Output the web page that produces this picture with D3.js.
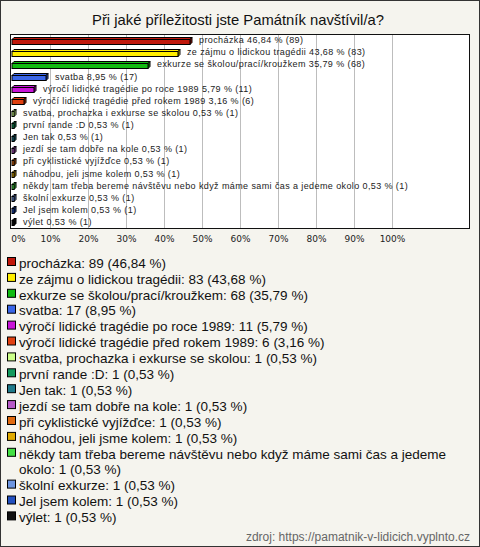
<!DOCTYPE html>
<html><head><meta charset="utf-8">
<script src="https://cdn.jsdelivr.net/npm/d3@7"></script>
<style>html,body{margin:0;padding:0;background:#fff}</style>
</head><body>
<script>
const categories = [
  "procházka",
  "ze zájmu o lidickou tragédii",
  "exkurze se školou/prací/kroužkem",
  "svatba",
  "výročí lidické tragédie po roce 1989",
  "výročí lidické tragédie před rokem 1989",
  "svatba, prochazka i exkurse se skolou",
  "první rande :D",
  "Jen tak",
  "jezdí se tam dobře na kole",
  "při cyklistické vyjížďce",
  "náhodou, jeli jsme kolem",
  "někdy tam třeba bereme návštěvu nebo když máme sami čas a jedeme okolo",
  "školní exkurze",
  "Jel jsem kolem",
  "výlet"
];
const counts = [89, 83, 68, 17, 11, 6, 1, 1, 1, 1, 1, 1, 1, 1, 1, 1];
const percents = [46.84, 43.68, 35.79, 8.95, 5.79, 3.16, 0.53, 0.53, 0.53, 0.53, 0.53, 0.53, 0.53, 0.53, 0.53, 0.53];
const colors = ["#c0180c","#ffee00","#11bb11","#3a66e8","#c814d8","#e04010","#ccff88","#139a5e","#1f7a8a","#b65ac8","#e06a10","#e0aa00","#44e044","#6d95e0","#2250c0","#111111"];
const ticks = [0,10,20,30,40,50,60,70,80,90,100];
const title = "Při jaké příležitosti jste Památník navštívil/a?";
const source = "zdroj: https://pamatnik-v-lidicich.vyplnto.cz";

const W = 480, H = 547;
const svg = d3.select("body").append("svg").attr("width", W).attr("height", H);
const fmt = v => v.toFixed(2).replace(".", ",");

svg.append("rect").attr("x",0.5).attr("y",0.5).attr("width",W-1).attr("height",H-1)
  .attr("fill","#f5f4ee").attr("stroke","#333");

svg.append("text").attr("x",238).attr("y",25).attr("text-anchor","middle")
  .attr("font-family","Liberation Sans, Arial, sans-serif").attr("font-size",14.8).attr("fill","#111")
  .text(title);

const plot = {l:10, r:470, t:34, b:228};
svg.append("rect").attr("x",plot.l+0.5).attr("y",plot.t+0.5).attr("width",plot.r-plot.l-1).attr("height",plot.b-plot.t)
  .attr("fill","#fff").attr("stroke","#111");

const x = d3.scaleLinear().domain([0,100]).range([12,392]);
const y = d3.scaleBand().domain(categories).range([plot.t, plot.b]);

svg.append("g").selectAll("line").data(ticks.filter(t=>t>0)).join("line")
  .attr("x1",d=>Math.round(x(d))+0.5).attr("x2",d=>Math.round(x(d))+0.5)
  .attr("y1",plot.t+1).attr("y2",plot.b)
  .attr("stroke","#bdbdbd");

const axis = d3.axisBottom(x).tickValues(ticks).tickFormat(d=>d+"%").tickSize(0);
const ax = svg.append("g").attr("transform",`translate(0,${plot.b+3})`).call(axis);
ax.select(".domain").remove();
ax.selectAll("text").attr("font-family","DejaVu Sans, Verdana, sans-serif").attr("font-size",9).attr("fill","#222").attr("dy","0.9em")
  .attr("dx",(d)=>d===0?6:0);

const D = 2, bh = 5;
const rows = svg.append("g").selectAll("g").data(categories).join("g");
rows.each(function(c,i){
  const g = d3.select(this);
  const x0 = x(0), x1 = Math.max(x(percents[i]), x0+2);
  const yc = y(c) + y.bandwidth()/2;
  const yt = Math.round(yc - bh/2 + 1) + 0.5;
  const col = colors[i];
  const dark = d3.color(col).darker(0.6);
  g.append("path").attr("d",`M${x0},${yt} L${x0+D},${yt-D} L${x1+D},${yt-D} L${x1},${yt} Z`)
    .attr("fill",col).attr("stroke","#000").attr("stroke-width",1);
  g.append("path").attr("d",`M${x1},${yt} L${x1+D},${yt-D} L${x1+D},${yt+bh-D} L${x1},${yt+bh} Z`)
    .attr("fill",dark).attr("stroke","#000").attr("stroke-width",1);
  g.append("rect").attr("x",x0).attr("y",yt).attr("width",x1-x0).attr("height",bh)
    .attr("fill",col).attr("stroke","#000").attr("stroke-width",1);
  g.append("text").attr("x",x1+9).attr("y",yc).attr("dy","0.35em")
    .attr("font-family","Liberation Sans, Arial, sans-serif").attr("font-size",9).attr("fill","#222")
    .attr("letter-spacing",0.4)
    .text(`${c} ${fmt(percents[i])} % (${counts[i]})`);
});

const lg = svg.append("g");
let ly = 263;
const lineH = 15.9;
categories.forEach((c,i)=>{
  lg.append("rect").attr("x",7.5).attr("y",ly-5.5).attr("width",8).attr("height",8)
    .attr("fill",colors[i]).attr("stroke","#000");
  const t = lg.append("text").attr("x",19).attr("y",ly).attr("dy","0.35em")
    .attr("font-family","Liberation Sans, Arial, sans-serif").attr("font-size",13.5).attr("fill","#111");
  const words = `${c}: ${counts[i]} (${fmt(percents[i])} %)`.split(" ");
  let line = [], ts = t.append("tspan").attr("x",19);
  let nLines = 1;
  words.forEach(w=>{
    line.push(w);
    ts.text(line.join(" "));
    if (ts.node().getComputedTextLength() > 440 && line.length>1) {
      line.pop(); ts.text(line.join(" "));
      line = [w];
      ts = t.append("tspan").attr("x",19).attr("dy",lineH).text(w);
      nLines++;
    }
  });
  ly += lineH*nLines;
});

svg.append("text").attr("x",470).attr("y",541).attr("text-anchor","end")
  .attr("font-family","Liberation Sans, Arial, sans-serif").attr("font-size",12).attr("fill","#666")
  .text(source);
</script>
</body></html>
